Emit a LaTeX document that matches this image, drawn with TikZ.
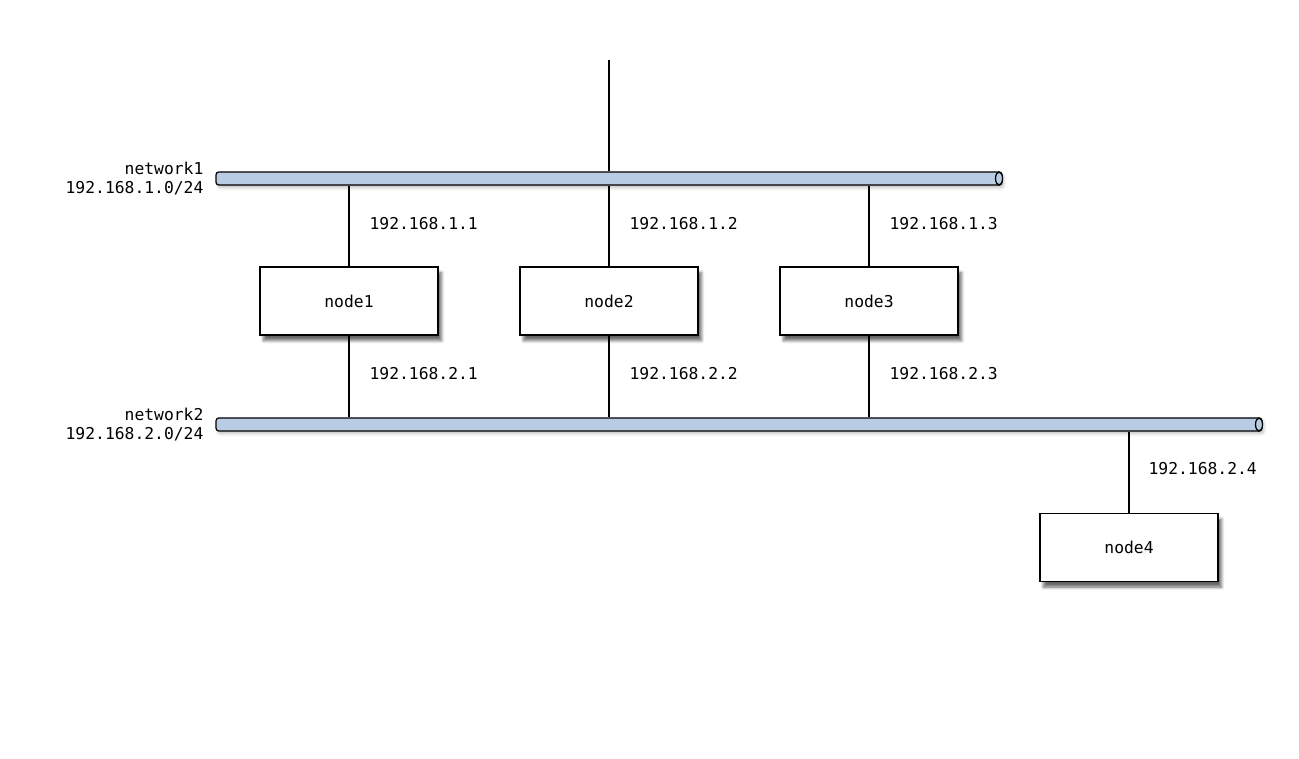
\documentclass[tikz,border=0pt]{standalone}
\usepackage{fontspec}
\setmonofont{DejaVu Sans Mono}
\usepackage{tikz}
\usetikzlibrary{positioning,calc,shapes,shadows.blur}
\definecolor{netblue}{RGB}{184,204,228}
\tikzset{
  hostbox/.style={draw,fill=white,minimum width=3.56cm,minimum height=1.36cm,
    blur shadow={shadow xshift=2pt,shadow yshift=-3.2pt,shadow blur steps=6,shadow opacity=60}},
  netbar/.style={draw,fill=netblue,rounded corners=1.5pt,minimum height=0.26cm,inner sep=0pt,
    blur shadow={shadow xshift=1pt,shadow yshift=-1.5pt,shadow blur steps=4,shadow opacity=25}},
  iplabel/.style={anchor=west,inner sep=0pt},
  txt/.style={font=\ttfamily\fontsize{9.3}{10.5}\selectfont}
}

\begin{document}
\begin{tikzpicture}[x=0.02cm,y=-0.02cm,line width=0.7pt,txt]
\useasboundingbox (0,0) rectangle (1299,759);

\node [netbar,minimum width=15.72cm] (net1) at (609,178.5) {};
\node [netbar,minimum width=20.92cm] (net2) at (739,424.5) {};
\draw [fill=netblue] ([xshift=-0.07cm]net1.east) ellipse (0.07cm and 0.13cm);
\draw [fill=netblue] ([xshift=-0.07cm]net2.east) ellipse (0.07cm and 0.13cm);

\node [align=right,anchor=east,inner sep=0pt] (lab1) at (204,178.5) {network1\\192.168.1.0/24};
\node [align=right,anchor=east,inner sep=0pt] (lab2) at (204,424.5) {network2\\192.168.2.0/24};

\node [hostbox] (n1) at (349,301) {node1};
\node [hostbox] (n2) at (609,301) {node2};
\node [hostbox] (n3) at (869,301) {node3};
\node [hostbox] (n4) at (1129,547.5) {node4};

\coordinate (top) at (609,60);

\begin{scope}[line width=0.7pt]
\draw (top) to (net1.north);
\draw (n1.north) to (n1.north |- net1.south);
\draw (n2.north) to (n2.north |- net1.south);
\draw (n3.north) to (n3.north |- net1.south);
\draw (n1.south) to (n1.south |- net2.north);
\draw (n2.south) to (n2.south |- net2.north);
\draw (n3.south) to (n3.south |- net2.north);
\draw (n4.north) to (n4.north |- net2.south);
\end{scope}

\node [iplabel] (ip11) at (369,224) {192.168.1.1};
\node [iplabel] (ip12) at (629,224) {192.168.1.2};
\node [iplabel] (ip13) at (889,224) {192.168.1.3};
\node [iplabel] (ip21) at (369,374) {192.168.2.1};
\node [iplabel] (ip22) at (629,374) {192.168.2.2};
\node [iplabel] (ip23) at (889,374) {192.168.2.3};
\node [iplabel] (ip24) at (1148,469) {192.168.2.4};

\end{tikzpicture}
\end{document}
